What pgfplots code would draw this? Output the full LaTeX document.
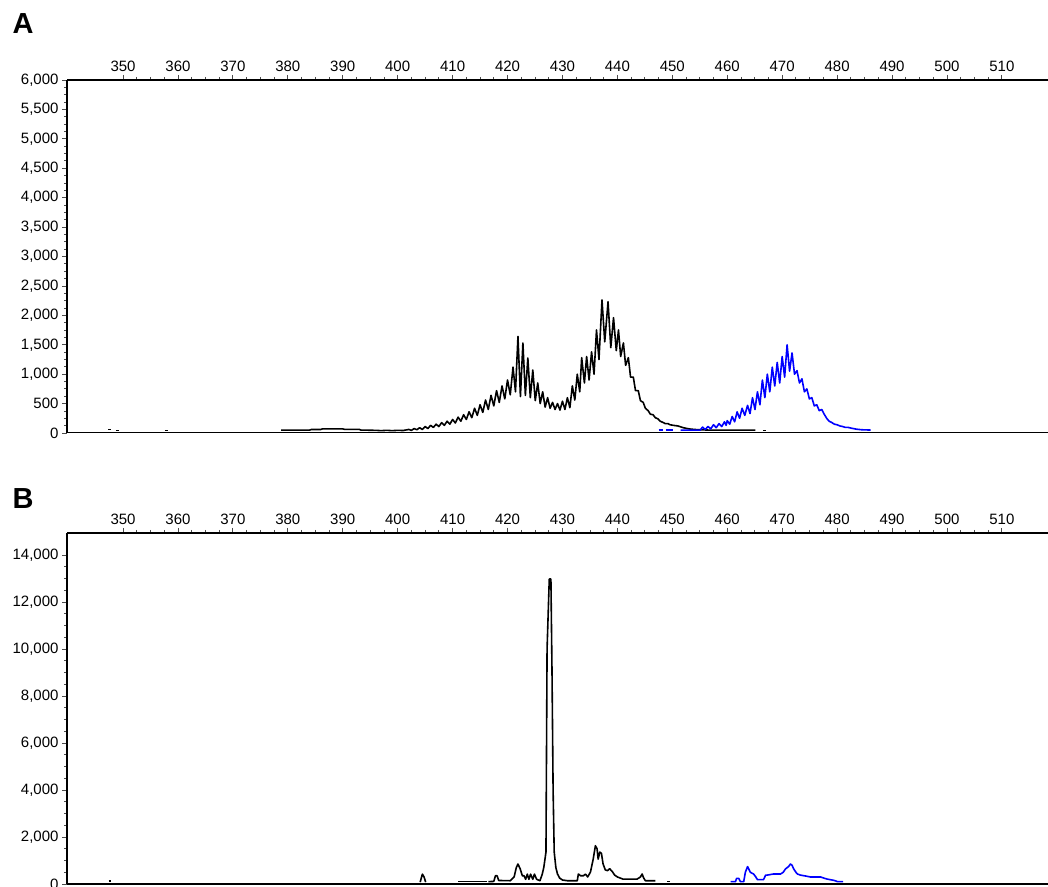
\documentclass[border=0pt]{standalone}
\usepackage{fontspec}
\setmainfont{Liberation Sans}
\usepackage{pgfplots}
\pgfplotsset{compat=1.18}

\definecolor{traceblue}{RGB}{0,0,255}

\pgfplotsset{
  epg/.style={
    scale only axis, width=981pt,
    xmin=339.8, xmax=518.4,
    axis x line*=top, axis y line*=left,
    axis line style={line width=2.8pt},
    xtick={350,360,...,510}, minor x tick num=3,
    tick align=outside,
    major tick length=5pt, minor tick length=3pt,
    every tick/.style={black!70, line width=0.8pt},
    tick label style={font=\fontsize{15}{17}\selectfont},
    /pgf/number format/assume math mode=true,
    /pgf/number format/.cd, 1000 sep={,},
  },
  blk/.style={black, line width=1.6pt, line join=round},
  blu/.style={traceblue, line width=1.6pt, line join=round},
}

\begin{document}
\begin{tikzpicture}
\useasboundingbox (0,0) rectangle (1048pt,886pt);

\node[anchor=base west, font=\bfseries\fontsize{29}{30}\selectfont] at (9pt,852pt) {A};
\node[anchor=base west, font=\bfseries\fontsize{29}{30}\selectfont] at (9pt,377pt) {B};

% panel A
\begin{axis}[epg, at={(67pt,453pt)}, anchor=south west, height=353pt,
  ymin=0, ymax=6000, ytick={0,500,...,6000}, minor y tick num=3,
  scaled y ticks=false]
\draw[line width=2pt] (rel axis cs:0,0) -- (rel axis cs:1,0);
% stray baseline dots
\addplot[blk] coordinates {(347.3,60)(347.9,60)};
\addplot[blk] coordinates {(348.7,40)(349.2,40)};
\addplot[blk] coordinates {(357.6,40)(358.1,40)};
% black trace
\addplot[blk] coordinates {
(378.8,50)(384,50)(384.3,60)(386,60)(386.3,70)(390,70)(390.3,62)(393,62)(393.3,50)
(396,45)(397,40)(398,45)(399,40)(400,45)(401,42)(402,60)(402.5,45)(403,75)(403.5,55)
(404,90)(404.5,60)(405,110)(405.5,75)(406,130)(406.5,95)(407,150)(407.5,110)
(408,175)(408.5,130)(409,200)(409.5,150)(410,230)(410.5,170)(411,270)(411.5,200)
(412,310)(412.5,230)(413,360)(413.5,260)(414,420)(414.5,300)(415,480)(415.5,350)
(416,560)(416.5,400)(417,640)(417.5,460)(418,720)(418.5,520)(419,800)(419.5,580)
(420,900)(420.5,650)(421,1120)(421.45,700)(421.9,1640)(422.35,620)(422.8,1530)
(423.25,640)(423.7,1275)(424.15,600)(424.6,1070)(425.05,550)(425.5,850)(425.95,500)
(426.4,700)(426.85,440)(427.3,600)(427.75,420)(428.2,520)(428.65,400)(429.1,500)
(429.55,390)(430.0,540)(430.45,400)(430.9,600)(431.35,430)(431.8,800)(432.25,560)
(432.7,1000)(433.15,700)(433.5,1280)(434.0,850)(434.4,1300)(434.85,900)(435.3,1380)
(435.75,1000)(436.2,1750)(436.65,1250)(437.2,2260)(437.7,1550)(438.3,2230)(438.8,1450)
(439.3,1960)(439.8,1400)(440.2,1750)(440.6,1300)(441.1,1530)(441.5,1150)(442.0,1280)
(442.4,950)(442.9,950)(443.3,720)(443.8,720)(444.2,550)(444.7,520)(445.1,420)
(445.6,380)(446.0,320)(446.5,310)(446.9,260)(447.4,240)(447.8,200)(448.3,180)
(448.7,160)(449.2,160)(449.6,140)(450.2,130)(451,120)(452,90)(453,70)(454,60)
(455,55)(456.5,50)(465.1,50)};
\addplot[blk] coordinates {(466.6,40)(467.0,40)};
% blue trace
\addplot[blu] coordinates {(447.5,50)(448.3,50)};
\addplot[blu] coordinates {(448.8,50)(450.2,50)};
\addplot[blu] coordinates {
(451.5,50)(455.1,50)(455.5,100)(456.0,60)(456.5,110)(457.0,70)(457.5,140)(458.0,90)
(458.5,160)(459.0,110)(459.5,190)(459.8,130)(460.0,210)(460.45,150)(460.9,280)
(461.35,190)(461.8,360)(462.25,250)(462.7,420)(463.2,300)(463.7,470)(464.15,330)
(464.6,600)(465.05,400)(465.5,700)(465.95,480)(466.4,900)(466.85,600)(467.3,1000)
(467.75,700)(468.2,1120)(468.65,800)(469.1,1200)(469.55,850)(470.0,1300)(470.45,950)
(470.9,1500)(471.35,1050)(471.8,1360)(472.25,1000)(472.7,1060)(473.15,850)(473.6,920)
(474.05,700)(474.5,750)(474.95,580)(475.4,600)(475.85,460)(476.3,480)(476.75,380)
(477.2,400)(477.65,320)(478.1,250)(478.55,200)(479.0,180)(479.5,150)(480.0,140)
(480.5,120)(481.0,110)(481.5,95)(482.0,95)(482.7,80)(483.5,65)(484.5,55)(486.1,50)};
\end{axis}

% panel B
\begin{axis}[epg, at={(67pt,2pt)}, anchor=south west, height=351pt,
  ymin=0, ymax=14940, ytick={0,2000,...,14000}, minor y tick num=3,
  scaled y ticks=false]
\draw[line width=2pt] (rel axis cs:0,0) -- (rel axis cs:1,0);
\addplot[blk] coordinates {(347.4,120)(347.9,120)};
\addplot[blk] coordinates {(404.1,80)(404.5,420)(404.8,300)(405.1,80)};
\addplot[blk] coordinates {(411.0,100)(416.3,100)};
\addplot[blk] coordinates {
(416.5,100)(417.5,110)(417.8,350)(418.1,350)(418.4,150)(420.5,140)(421.2,300)
(421.6,700)(421.9,850)(422.3,650)(422.7,350)(423.0,350)(423.3,200)(423.6,420)
(423.9,200)(424.2,420)(424.6,200)(424.9,420)(425.3,200)(425.9,140)(426.3,400)
(426.6,700)(427.0,1360)(427.2,10000)(427.6,12980)(427.9,12980)(428.1,9020)
(428.3,3970)(428.5,1360)(428.8,700)(429.1,425)(429.5,250)(430.0,170)(430.9,140)
(432.7,140)(432.9,425)(433.3,350)(433.8,350)(434.2,420)(434.6,300)(435.1,510)
(435.6,1060)(436.0,1630)(436.3,1500)(436.5,1060)(436.8,1360)(437.1,1300)(437.4,850)
(437.8,600)(438.2,570)(438.6,650)(439.1,520)(439.5,380)(440.0,300)(441.0,210)
(443.6,210)(444.2,300)(444.5,425)(444.8,250)(445.1,140)(446.9,140)};
\addplot[blk] coordinates {(449.1,100)(449.6,100)};
\addplot[blu] coordinates {
(460.6,100)(461.5,100)(461.7,240)(462.1,240)(462.4,100)(463.0,100)(463.3,500)
(463.7,740)(464.0,600)(464.2,500)(464.8,425)(465.2,300)(465.5,185)(466.6,185)
(467.0,380)(467.3,380)(468.4,425)(469.7,425)(470.2,500)(470.6,640)(471.2,750)
(471.5,850)(471.8,800)(472.1,640)(472.5,500)(472.8,425)(473.3,380)(473.9,355)
(474.5,330)(475.1,300)(477.0,300)(477.6,250)(478.2,210)(479.5,150)(480.1,100)
(481.1,100)};
\end{axis}
\end{tikzpicture}
\end{document}
